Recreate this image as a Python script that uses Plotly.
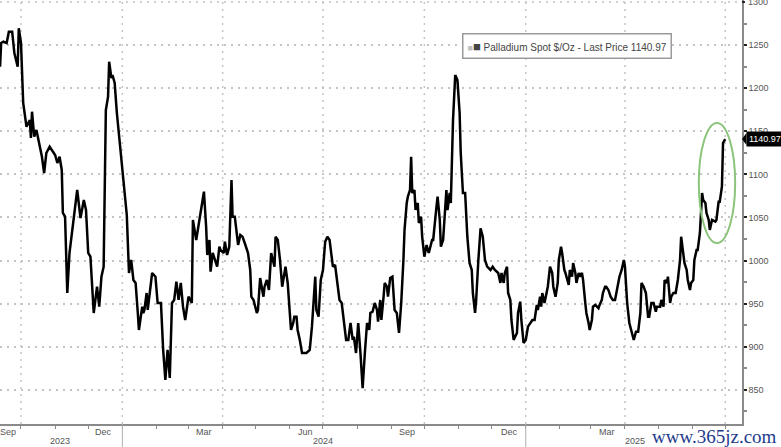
import pandas as pd
import plotly.graph_objects as go

# ---------------- data ----------------
BASE_DATE = "2023-10-01"   # day offsets below are counted from this date

day_offsets = [
    -19, -18, -16, -13, -11, -8, -6, -3, -2, 0, 2, 5, 8, 9, 10, 12, 14, 16, 19, 21,
    23, 26, 29, 31, 33, 35, 37, 38, 40, 42, 44, 47, 51, 54, 57, 59, 61, 63, 66, 69,
    71, 73, 75, 77, 79, 80, 82, 83, 85, 87, 90, 93, 96, 98, 100, 102, 104, 106, 107, 110,
    111, 112, 114, 115, 117, 119, 122, 124, 127, 129, 131, 133, 135, 137, 139, 141, 143, 145, 147, 149,
    152, 155, 156, 159, 160, 162, 164, 166, 168, 169, 171, 172, 174, 175, 178, 180, 181, 184, 185, 187,
    189, 191, 192, 194, 197, 199, 201, 203, 206, 208, 209, 211, 214, 215, 217, 220, 221, 223, 225, 227,
    230, 231, 233, 235, 237, 238, 240, 242, 243, 245, 247, 248, 250, 251, 253, 255, 259, 262, 264, 265,
    267, 268, 270, 272, 274, 276, 278, 280, 283, 285, 287, 289, 291, 293, 295, 297, 299, 301, 302, 304,
    306, 308, 310, 312, 314, 316, 317, 319, 321, 323, 324, 326, 327, 329, 330, 332, 333, 335, 337, 339,
    341, 343, 345, 347, 348, 350, 351, 353, 354, 355, 357, 358, 360, 361, 363, 364, 366, 368, 370, 373,
    374, 377, 378, 380, 381, 383, 384, 386, 387, 389, 390, 392, 394, 396, 398, 399, 401, 403, 405, 407,
    409, 410, 412, 413, 415, 417, 419, 421, 423, 426, 428, 430, 433, 435, 436, 438, 439, 441, 442, 444,
    445, 447, 450, 451, 453, 454, 456, 458, 460, 462, 464, 466, 468, 469, 471, 472, 473, 475, 476, 478,
    480, 482, 483, 485, 487, 488, 490, 491, 493, 494, 497, 498, 500, 501, 503, 504, 506, 507, 509, 510,
    512, 513, 515, 516, 518, 519, 521, 524, 525, 527, 528, 530, 531, 533, 535, 537, 539, 541, 542, 543,
    545, 547, 548, 550, 552, 554, 556, 558, 560, 562, 563, 565, 567, 569, 570, 572, 574, 576, 577, 580,
    581, 583, 584, 586, 587, 589, 590, 592, 594, 596, 598, 599, 601, 602, 604, 605, 607, 608, 610, 611,
    613, 614, 616, 618, 619, 621, 622, 624, 625, 627, 630, 631, 633, 634, 636, 637, 639,
]

prices = [
    1224.9, 1252.4, 1253.9, 1252.4, 1265.5, 1265.5, 1240.8, 1224.9, 1269.5, 1252.4, 1182.8, 1155.3, 1163.1, 1142.2, 1172.7, 1143.7, 1151.5, 1139.9, 1120.5, 1101.6,
    1124.8, 1132.1, 1126.3, 1122.5, 1113.2, 1120.5, 1105.1, 1055.2, 1050.9, 962.4, 1008.8, 1039.3, 1081.9, 1049.4, 1070.3, 1058.7, 1008.8, 1004.5, 939.2, 969.7,
    946.5, 981.3, 992.9, 1174.7, 1190.1, 1230.7, 1211.8, 1215.3, 1206.0, 1171.2, 1132.1, 1085.7, 1052.9, 985.6, 1000.7, 977.5, 974.0, 939.2, 919.5, 946.5,
    939.2, 942.7, 962.4, 942.7, 962.4, 985.6, 981.3, 950.8, 950.8, 896.3, 861.5, 896.3, 863.8, 950.8, 954.3, 975.5, 954.3, 974.0, 946.5, 931.1,
    958.1, 950.8, 1047.1, 1023.9, 1032.0, 1047.1, 1062.5, 1079.9, 1039.3, 1006.5, 1023.9, 987.1, 1008.8, 1004.5, 992.9, 1016.1, 1012.3, 1008.8, 1021.9, 1006.5,
    1016.1, 1093.5, 1050.9, 1050.9, 1018.1, 1029.7, 1027.7, 1020.4, 1008.8, 989.1, 958.1, 954.3, 939.2, 942.7, 979.8, 958.1, 969.7, 977.5, 965.9, 1008.8,
    992.9, 1027.7, 1023.9, 1000.7, 969.7, 977.5, 992.9, 974.0, 950.8, 919.5, 927.6, 934.9, 934.9, 919.5, 907.9, 892.8, 892.8, 896.3, 923.3, 942.7,
    981.3, 942.7, 934.9, 977.5, 989.1, 1021.9, 1027.7, 1023.9, 992.9, 994.9, 977.5, 954.3, 950.8, 931.1, 907.9, 907.9, 927.6, 907.9, 911.7, 892.8,
    927.6, 892.8, 851.9, 892.8, 927.6, 919.5, 939.2, 940.7, 950.8, 942.7, 929.1, 954.3, 931.1, 958.1, 974.0, 969.7, 958.1, 979.8, 981.3, 942.7,
    939.2, 916.0, 950.8, 1000.7, 1035.5, 1066.8, 1074.1, 1081.9, 1120.5, 1078.4, 1081.9, 1058.7, 1066.8, 1043.6, 1050.9, 1027.7, 1004.5, 1018.1, 1008.8, 1023.9,
    1023.9, 1062.5, 1074.1, 1047.1, 1016.1, 1023.9, 1047.1, 1081.9, 1058.7, 1078.4, 1066.8, 1163.1, 1215.3, 1209.5, 1171.2, 1124.8, 1078.4, 1078.4, 1027.7, 997.2,
    989.1, 962.4, 939.2, 954.3, 1000.7, 1037.5, 1027.7, 1000.7, 992.9, 989.1, 992.9, 989.1, 985.6, 974.0, 985.6, 974.0, 985.6, 992.9, 962.4, 954.3,
    931.1, 907.9, 916.0, 939.2, 952.3, 931.1, 904.4, 907.9, 923.3, 927.6, 931.1, 931.1, 948.5, 942.7, 958.1, 946.5, 962.4, 950.8, 958.1, 969.7,
    992.9, 985.6, 969.7, 958.1, 974.0, 1000.7, 1016.1, 1008.8, 989.1, 985.6, 971.7, 989.1, 981.3, 997.2, 985.6, 974.0, 985.6, 981.3, 985.6, 977.5,
    950.8, 939.2, 927.6, 919.5, 931.1, 946.5, 948.5, 944.7, 948.5, 954.3, 962.4, 969.7, 969.7, 965.9, 958.1, 954.3, 954.3, 969.7, 974.0, 981.3,
    989.1, 1000.7, 992.9, 950.8, 927.6, 916.0, 907.9, 917.5, 917.5, 939.2, 974.0, 969.7, 962.4, 934.9, 934.9, 950.8, 950.8, 940.7, 946.5, 946.5,
    954.3, 946.5, 977.5, 974.0, 981.3, 950.8, 958.1, 962.4, 962.4, 977.5, 1000.7, 1027.7, 1008.8, 997.2, 989.1, 977.5, 965.9, 974.0, 977.5, 1000.7,
    1012.3, 1012.3, 1032.0, 1078.4, 1070.3, 1066.8, 1055.2, 1047.1, 1035.5, 1047.1, 1045.1, 1047.1, 1068.3, 1068.3, 1085.7, 1136.4, 1140.97,
]

SERIES_NAME = "Palladium Spot $/Oz - Last Price"
LAST_PRICE = 1140.97

y_tick_values = [850, 900, 950, 1000, 1050, 1100, 1150, 1200, 1250]
y_top_label = 1300
y_minor_values = [825, 875, 925, 975, 1025, 1075, 1125, 1175, 1225, 1275]

month_tick_dates = ["2023-09-19", "2023-12-15", "2024-03-15", "2024-06-15",
                    "2024-09-15", "2024-12-17", "2025-03-16"]
month_tick_labels = ["Sep", "Dec", "Mar", "Jun", "Sep", "Dec", "Mar"]

year_label_dates = ["2023-11-05", "2024-07-01", "2025-04-10"]
year_labels = ["2023", "2024", "2025"]
year_boundaries = ["2024-01-01", "2025-01-01"]

quarter_grid_dates = ["2023-10-01", "2024-01-01", "2024-04-01", "2024-07-01",
                      "2024-10-01", "2025-01-01", "2025-04-01", "2025-07-01"]

x_range = ["2023-09-11 23:00", "2025-07-16 05:00"]
y_range = [810.4, 1302.3]

highlight_x = ["2025-06-07", "2025-07-10"]
highlight_y = [1020.4, 1159.6]

WATERMARK = "www.365jz.com"

# ---------------- figure ----------------
dates = pd.Timestamp(BASE_DATE) + pd.to_timedelta(day_offsets, unit="D")

GRID = "#c4c4c4"
TXT = "#555555"
FONT = "Liberation Sans"

fig = go.Figure()
fig.add_trace(go.Scatter(
    x=dates, y=prices, mode="lines",
    line=dict(color="#000000", width=2.5),
    name=SERIES_NAME, showlegend=False, hoverinfo="skip",
))

# vertical dotted grid at quarter starts
for d in quarter_grid_dates:
    fig.add_shape(type="line", xref="x", yref="paper", x0=d, x1=d, y0=0, y1=1,
                  line=dict(color=GRID, width=1.5, dash="2px,5px"), layer="below")

# top gridline (1300) and its tick
fig.add_shape(type="line", xref="paper", yref="y", x0=0, x1=1, y0=y_top_label, y1=y_top_label,
              line=dict(color=GRID, width=1.5, dash="2px,5px"), layer="below")
fig.add_shape(type="line", xref="paper", yref="y", x0=1, x1=1.004, y0=y_top_label, y1=y_top_label,
              line=dict(color="#222222", width=2))

# year separators under the axis
for d in year_boundaries:
    fig.add_shape(type="line", xref="x", yref="paper", x0=d, x1=d, y0=0, y1=-0.06,
                  line=dict(color="#b0b0b0", width=1))

# green highlight ellipse
fig.add_shape(type="circle", xref="x", yref="y",
              x0=highlight_x[0], x1=highlight_x[1], y0=highlight_y[0], y1=highlight_y[1],
              line=dict(color="#8cc47c", width=2))

# last-price marker pointer on right axis
fig.add_shape(type="path", xref="paper", yref="y",
              path=f"M 1.0,{LAST_PRICE} L 1.006,{LAST_PRICE + 7} L 1.006,{LAST_PRICE - 7} Z",
              fillcolor="#000000", line=dict(width=0))

annotations = []
for d, t in zip(month_tick_dates, month_tick_labels):
    annotations.append(dict(x=d, xref="x", y=0, yref="paper", yshift=-8,
                            text=t, showarrow=False, xanchor="center", yanchor="middle",
                            font=dict(family=FONT, size=9, color=TXT)))
for d, t in zip(year_label_dates, year_labels):
    annotations.append(dict(x=d, xref="x", y=0, yref="paper", yshift=-17,
                            text=t, showarrow=False, xanchor="center", yanchor="middle",
                            font=dict(family=FONT, size=9, color=TXT)))

# top y label (cut at the image edge, as in the source)
annotations.append(dict(x=1, xref="paper", y=y_top_label, yref="y", xshift=4,
                        text=str(y_top_label), showarrow=False, xanchor="left", yanchor="middle",
                        font=dict(family=FONT, size=9, color=TXT)))

# legend box
annotations.append(dict(
    x=0.7648, y=0.8915, xref="paper", yref="paper", xanchor="center", yanchor="middle",
    text=(f"<span style='color:#c0c0c0;font-size:9px'>■</span>"
          f"<span style='font-size:13px'>■</span> {SERIES_NAME} {LAST_PRICE:.2f}"),
    showarrow=False, font=dict(family=FONT, size=10, color="#444444"),
    bgcolor="#ffffff", bordercolor="#9a9a9a", borderwidth=1.5, borderpad=4,
))

# last price label
annotations.append(dict(
    x=1.006, xref="paper", y=LAST_PRICE, yref="y", xanchor="left", yanchor="middle",
    text=f"{LAST_PRICE:.2f}", showarrow=False,
    font=dict(family=FONT, size=9, color="#ffffff"),
    bgcolor="#000000", borderpad=2,
))

# watermark
annotations.append(dict(
    x=0.9636, xref="paper", y=0, yref="paper", yshift=-12, xanchor="center", yanchor="middle",
    text=WATERMARK, showarrow=False,
    font=dict(family="Liberation Serif", size=19, color="#1d3b8b"),
))

fig.update_layout(
    width=781, height=447,
    margin=dict(l=0, r=39, t=0, b=23, autoexpand=False),
    paper_bgcolor="#ffffff", plot_bgcolor="#ffffff",
    showlegend=False,
    annotations=annotations,
    xaxis=dict(
        range=x_range, type="date",
        showticklabels=False, ticks="",
        showgrid=False, zeroline=False,
        showline=True, linecolor="#8a8a8a", linewidth=1.5,
        minor=dict(tickmode="array",
                   tickvals=pd.date_range("2023-10-01", "2025-07-01", freq="MS"),
                   ticks="outside", ticklen=3, tickcolor="#8a8a8a", showgrid=False),
    ),
    yaxis=dict(
        range=y_range, side="right",
        tickmode="array", tickvals=y_tick_values,
        ticks="outside", ticklen=3, tickwidth=2, tickcolor="#222222",
        tickfont=dict(family=FONT, size=9, color=TXT),
        showgrid=True, gridcolor=GRID, gridwidth=1.5, griddash="2px,5px",
        zeroline=False, automargin=False,
        showline=True, linecolor="#8a8a8a", linewidth=1.5,
        minor=dict(tickmode="array", tickvals=y_minor_values,
                   ticks="outside", ticklen=3, tickcolor="#8a8a8a", showgrid=False),
    ),
)

fig.write_html(
    "out.html",
    config={"displayModeBar": False},
    post_script="document.body.style.margin='0';document.body.style.padding='0';",
)
